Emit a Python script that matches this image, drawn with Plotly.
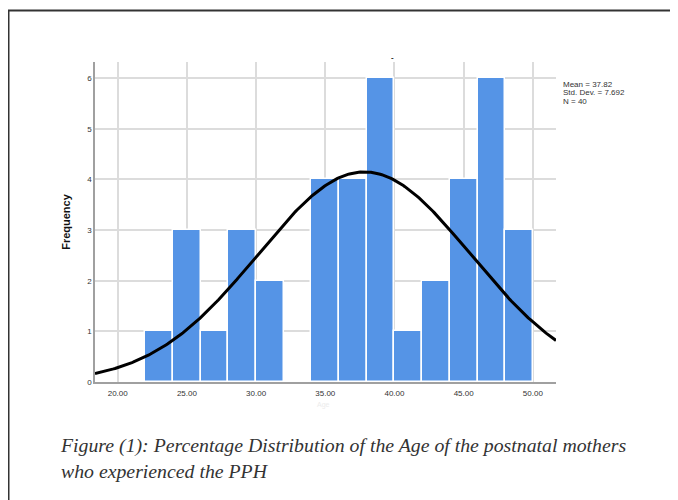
import numpy as np
import plotly.graph_objects as go

# ---- data ----
bin_left = [22, 24, 26, 28, 30, 32, 34, 36, 38, 40, 42, 44, 46, 48]
counts = [1, 3, 1, 3, 2, 0, 4, 4, 6, 1, 2, 4, 6, 3]
bin_width = 2
x_ticks = [20, 25, 30, 35, 40, 45, 50]
x_tick_labels = ["20.00", "25.00", "30.00", "35.00", "40.00", "45.00", "50.00"]
y_ticks = [0, 1, 2, 3, 4, 5, 6]
mean_age = 37.82
std_age = 7.692
n_obs = 40
stats_lines = ["Mean = 37.82", "Std. Dev. = 7.692", "N = 40"]
caption_lines = ["Figure (1): Percentage Distribution of the Age of the postnatal mothers",
                 "who experienced the PPH"]

OFF = 8  # page body margin
W, H = 678 - OFF, 500 - OFF
L, T = 95 - OFF, 62 - OFF
R = W - (556 - OFF)
B = H - (382 - OFF)
PW, PH = W - L - R, H - T - B


def px(x):
    return (x - OFF - L) / PW


def py(y):
    return (H - B - (y - OFF)) / PH


xr = [18.36, 51.67]
centers = [b + bin_width / 2 for b in bin_left]

xs = np.linspace(xr[0], xr[1], 300)
curve = n_obs * bin_width / (std_age * np.sqrt(2 * np.pi)) * np.exp(-0.5 * ((xs - mean_age) / std_age) ** 2)

fig = go.Figure()
fig.add_trace(go.Bar(x=centers, y=counts, width=bin_width,
                     marker=dict(color="rgb(85,148,230)", line=dict(color="white", width=1.5)),
                     hoverinfo="skip"))
fig.add_trace(go.Scatter(x=xs, y=curve, mode="lines",
                         line=dict(color="black", width=3), hoverinfo="skip"))

fig.update_layout(
    width=W, height=H,
    margin=dict(l=L, r=R, t=T, b=B),
    paper_bgcolor="white", plot_bgcolor="white",
    showlegend=False, bargap=0,
    font=dict(family="Liberation Sans, Arial, sans-serif", color="#333"),
)
fig.update_xaxes(range=xr, tickvals=x_ticks, ticktext=x_tick_labels,
                 tickfont=dict(size=8, color="#333"),
                 showgrid=True, gridcolor="#dcdcdc", gridwidth=1.5,
                 showline=True, linecolor="#a0a0a0", linewidth=2,
                 zeroline=False, ticks="", ticklabelstandoff=2)
fig.update_yaxes(range=[0, 6.32], tickvals=y_ticks,
                 tickfont=dict(size=8, color="#333"),
                 showgrid=True, gridcolor="#dcdcdc", gridwidth=1.5,
                 showline=True, linecolor="#a0a0a0", linewidth=1.5,
                 zeroline=False, ticks="",
                 title=dict(text="<b>Frequency</b>", font=dict(size=11, color="#111"), standoff=14))

# stats box text
for i, line in enumerate(stats_lines):
    fig.add_annotation(xref="paper", yref="paper", x=px(561), y=py(84 + 8.6 * i),
                       xanchor="left", yanchor="middle",
                       text=line, showarrow=False, align="left",
                       font=dict(size=8, color="#333"))

# faint axis title remnant
fig.add_annotation(xref="paper", yref="paper", x=px(323), y=py(405), xanchor="center", yanchor="middle",
                   text="Age", showarrow=False, font=dict(size=7, color="#ececec"))
# small dark mark at top (title remnant)
fig.add_annotation(xref="paper", yref="paper", x=px(392), y=py(57), xanchor="center", yanchor="middle",
                   text="<b>-</b>", showarrow=False, font=dict(size=8, color="#222"))

# caption
fig.add_annotation(xref="paper", yref="paper", x=px(58), y=py(432), xanchor="left", yanchor="top",
                   text="<i>" + "<br>".join(caption_lines) + "</i>", showarrow=False, align="left",
                   font=dict(size=19.8, family="Liberation Serif, serif", color="#333"))

# frame
fig.add_shape(type="line", xref="paper", yref="paper", x0=px(8), x1=px(678), y0=py(10.5), y1=py(10.5),
              line=dict(color="#333", width=2))
fig.add_shape(type="line", xref="paper", yref="paper", x0=px(8.5), x1=px(8.5), y0=py(10), y1=py(500),
              line=dict(color="#333", width=2))

fig.write_html("out.html")
